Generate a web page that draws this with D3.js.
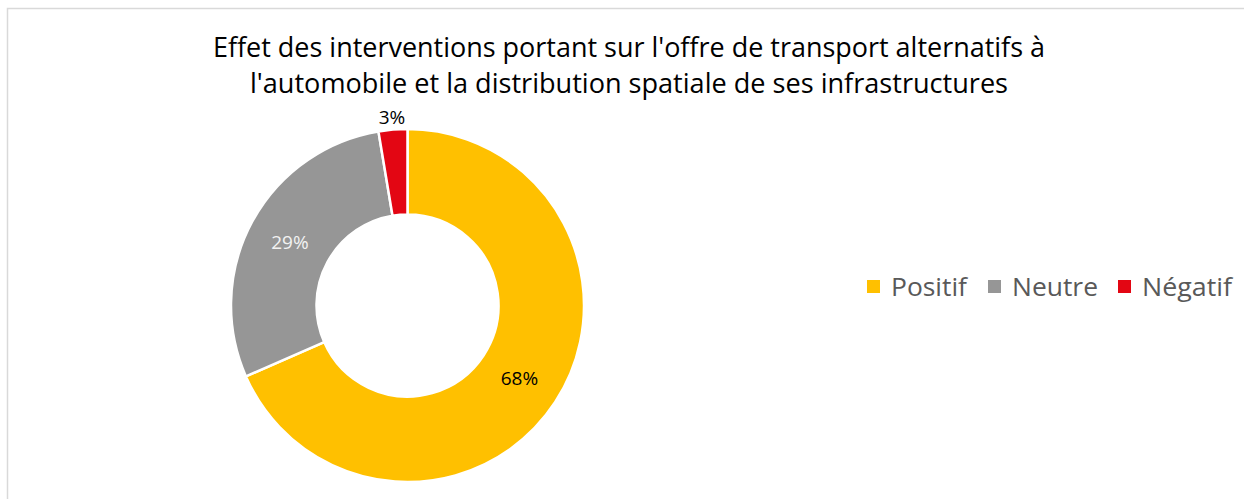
<!DOCTYPE html>
<html lang="fr">
<head>
  <meta charset="UTF-8">
  <title>Effet des interventions</title>
  <script src="https://d3js.org/d3.v7.min.js"></script>
  <style>
    body {
      margin: 0;
      background: #fff;
      font-family: "Open Sans", "Noto Sans", sans-serif;
    }
  </style>
</head>
<body>
  <svg id="chart" width="1244" height="499"></svg>
  <script>
    // data (counts giving 68 / 29 / 3 %)
    const categories = ["Positif", "Neutre", "Négatif"];
    const counts = [26, 11, 1];
    const colors = ["#FFC000", "#969696", "#E30613"];
    const labelColors = ["#000000", "#f2f2f2", "#000000"];
    const titleLines = [
      "Effet des interventions portant sur l'offre de transport alternatifs à",
      "l'automobile et la distribution spatiale de ses infrastructures"
    ];

    const svg = d3.select("#chart");
    const total = d3.sum(counts);
    const data = categories.map((c, i) => ({ name: c, value: counts[i], color: colors[i], labelColor: labelColors[i] }));

    // chart frame (only top and left edges visible)
    svg.append("rect")
      .attr("x", 7.5).attr("y", 8.5)
      .attr("width", 1260).attr("height", 520)
      .attr("fill", "none")
      .attr("stroke", "#d9d9d9")
      .attr("stroke-width", 1.5);

    // title
    const titleWidths = [832, 758];
    svg.selectAll(".title")
      .data(titleLines)
      .enter()
      .append("text")
      .attr("class", "title")
      .attr("x", 629)
      .attr("y", (d, i) => 57 + i * 36)
      .attr("text-anchor", "middle")
      .attr("font-size", "27.5px")
      .attr("fill", "#000")
      .attr("textLength", (d, i) => titleWidths[i])
      .attr("lengthAdjust", "spacingAndGlyphs")
      .text(d => d);

    // donut
    const cx = 407.5, cy = 305.5;
    const outerR = 176.5, innerR = 91;

    const pie = d3.pie().value(d => d.value).sort(null);
    const arc = d3.arc().innerRadius(innerR).outerRadius(outerR);
    const arcs = pie(data);

    const g = svg.append("g").attr("transform", `translate(${cx},${cy})`);

    g.selectAll("path")
      .data(arcs)
      .enter()
      .append("path")
      .attr("d", arc)
      .attr("fill", d => d.data.color)
      .attr("stroke", "#fff")
      .attr("stroke-width", 2.5);

    const fmt = v => Math.round(v / total * 100) + "%";
    const outArc = d3.arc().innerRadius(outerR + 12).outerRadius(outerR + 12);

    g.selectAll(".lbl")
      .data(arcs)
      .enter()
      .append("text")
      .attr("class", "lbl")
      .attr("transform", d => {
        const p = (d.value / total < 0.05) ? outArc.centroid(d) : arc.centroid(d);
        return `translate(${p[0]},${p[1]})`;
      })
      .attr("text-anchor", "middle")
      .attr("dy", "0.36em")
      .attr("font-size", "19px")
      .attr("fill", d => d.data.labelColor)
      .text(d => fmt(d.value));

    // legend
    const legendX = [867, 988, 1118];
    const legendW = [76, 86, 90];
    const legend = svg.append("g").attr("transform", "translate(0,286)");
    const item = legend.selectAll(".item")
      .data(data)
      .enter()
      .append("g")
      .attr("class", "item")
      .attr("transform", (d, i) => `translate(${legendX[i]},0)`);

    item.append("rect")
      .attr("x", 0).attr("y", -6)
      .attr("width", 13).attr("height", 13)
      .attr("fill", d => d.color);

    item.append("text")
      .attr("x", 24)
      .attr("y", 9.5)
      .attr("font-size", "25px")
      .attr("fill", "#595959")
      .attr("textLength", (d, i) => legendW[i])
      .attr("lengthAdjust", "spacingAndGlyphs")
      .text(d => d.name);
  </script>
</body>
</html>
